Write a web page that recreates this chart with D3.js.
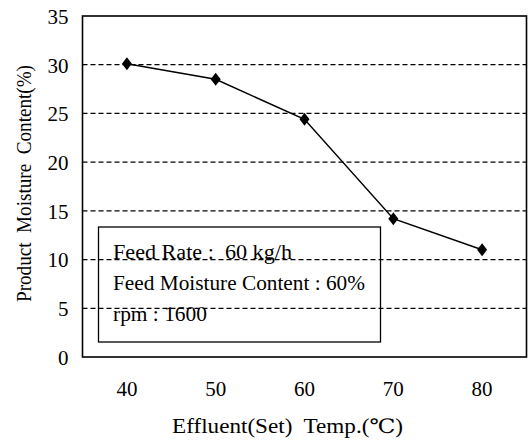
<!DOCTYPE html>
<html lang="en">
<head>
    <meta charset="UTF-8">
    <title>Product Moisture Content vs Effluent Temp</title>
    <script src="https://d3js.org/d3.v7.min.js"></script>
    <style>
        body {
            margin: 0;
            padding: 0;
            background: #fff;
        }
        svg text {
            font-family: "Liberation Serif", "DejaVu Serif", serif;
            fill: #000;
        }
        .axis-label {
            font-size: 21px;
        }
        .title {
            font-size: 20px;
        }
        .legend-text {
            font-size: 20px;
        }
    </style>
</head>
<body>
    <svg id="chart" width="529" height="440"></svg>

    <script>
        // Data
        const temps = [40, 50, 60, 70, 80];
        const moisture = [30.1, 28.5, 24.4, 14.2, 11.0];
        const yTicks = [0, 5, 10, 15, 20, 25, 30, 35];
        const notes = ["Feed Rate :  60 kg/h", "Feed Moisture Content : 60%", "rpm : 1600"];
        const noteWidths = [179, 252, 94];

        const margin = { top: 16, right: 2.5, bottom: 83, left: 82.5 },
            width = 529 - margin.left - margin.right,
            height = 440 - margin.top - margin.bottom;

        const svg = d3.select("#chart")
            .attr("font-family", "Liberation Serif, serif")
            .append("g")
            .attr("transform", `translate(${margin.left},${margin.top})`);

        const x = d3.scaleBand()
            .domain(temps)
            .range([0, width])
            .padding(0);

        const y = d3.scaleLinear()
            .domain([0, 35])
            .range([height, 0]);

        // dashed grid lines
        svg.selectAll(".grid")
            .data(yTicks.filter(d => d > 0 && d < 35))
            .enter()
            .append("line")
            .attr("x1", 0)
            .attr("x2", width)
            .attr("y1", d => y(d))
            .attr("y2", d => y(d))
            .attr("stroke", "#000")
            .attr("stroke-width", 1.3)
            .attr("stroke-dasharray", "5,3");

        // plot frame
        svg.append("rect")
            .attr("width", width)
            .attr("height", height)
            .attr("fill", "none")
            .attr("stroke", "#000")
            .attr("stroke-width", 1.6);

        // Y axis
        const yAxis = svg.append("g")
            .call(d3.axisLeft(y).tickValues(yTicks).tickSize(0).tickPadding(14))
            .attr("font-family", null)
            .attr("font-size", null);
        yAxis.select(".domain").remove();
        yAxis.selectAll("text")
            .attr("class", "axis-label")
            .attr("dy", "0.35em");

        // X axis
        const xAxis = svg.append("g")
            .attr("transform", `translate(0,${height})`)
            .call(d3.axisBottom(x).tickSize(0).tickPadding(24))
            .attr("font-family", null)
            .attr("font-size", null);
        xAxis.select(".domain").remove();
        xAxis.selectAll("text")
            .attr("class", "axis-label");

        // line
        const line = d3.line()
            .x((d, i) => x(temps[i]) + x.bandwidth() / 2)
            .y(d => y(d));

        svg.append("path")
            .datum(moisture)
            .attr("d", line)
            .attr("fill", "none")
            .attr("stroke", "#000")
            .attr("stroke-width", 1.5);

        // diamond markers
        svg.selectAll(".marker")
            .data(moisture)
            .enter()
            .append("path")
            .attr("transform", (d, i) => `translate(${x(temps[i]) + x.bandwidth() / 2},${y(d)})`)
            .attr("d", "M0,-6.5L5,0L0,6.5L-5,0Z")
            .attr("fill", "#000");

        // notes box
        const box = svg.append("g")
            .attr("transform", `translate(${98.5 - margin.left},${227 - margin.top})`);
        box.append("rect")
            .attr("width", 282)
            .attr("height", 115)
            .attr("fill", "none")
            .attr("stroke", "#000")
            .attr("stroke-width", 1.3);
        box.selectAll("text")
            .data(notes)
            .enter()
            .append("text")
            .attr("class", "legend-text")
            .attr("x", 14.5)
            .attr("y", (d, i) => 32 + i * 31)
            .attr("textLength", (d, i) => noteWidths[i])
            .attr("lengthAdjust", "spacingAndGlyphs")
            .attr("xml:space", "preserve")
            .text(d => d);

        // axis titles
        svg.append("text")
            .attr("class", "title")
            .attr("x", 172 - margin.left)
            .attr("y", 433 - margin.top)
            .attr("textLength", 231)
            .attr("lengthAdjust", "spacingAndGlyphs")
            .attr("xml:space", "preserve")
            .text("Effluent(Set)  Temp.(\u2103)");

        svg.append("text")
            .attr("class", "title")
            .attr("transform", `translate(${31 - margin.left},${302 - margin.top}) rotate(-90)`)
            .attr("textLength", 237)
            .attr("lengthAdjust", "spacingAndGlyphs")
            .attr("xml:space", "preserve")
            .text("Product  Moisture  Content(%)");
    </script>
</body>
</html>
